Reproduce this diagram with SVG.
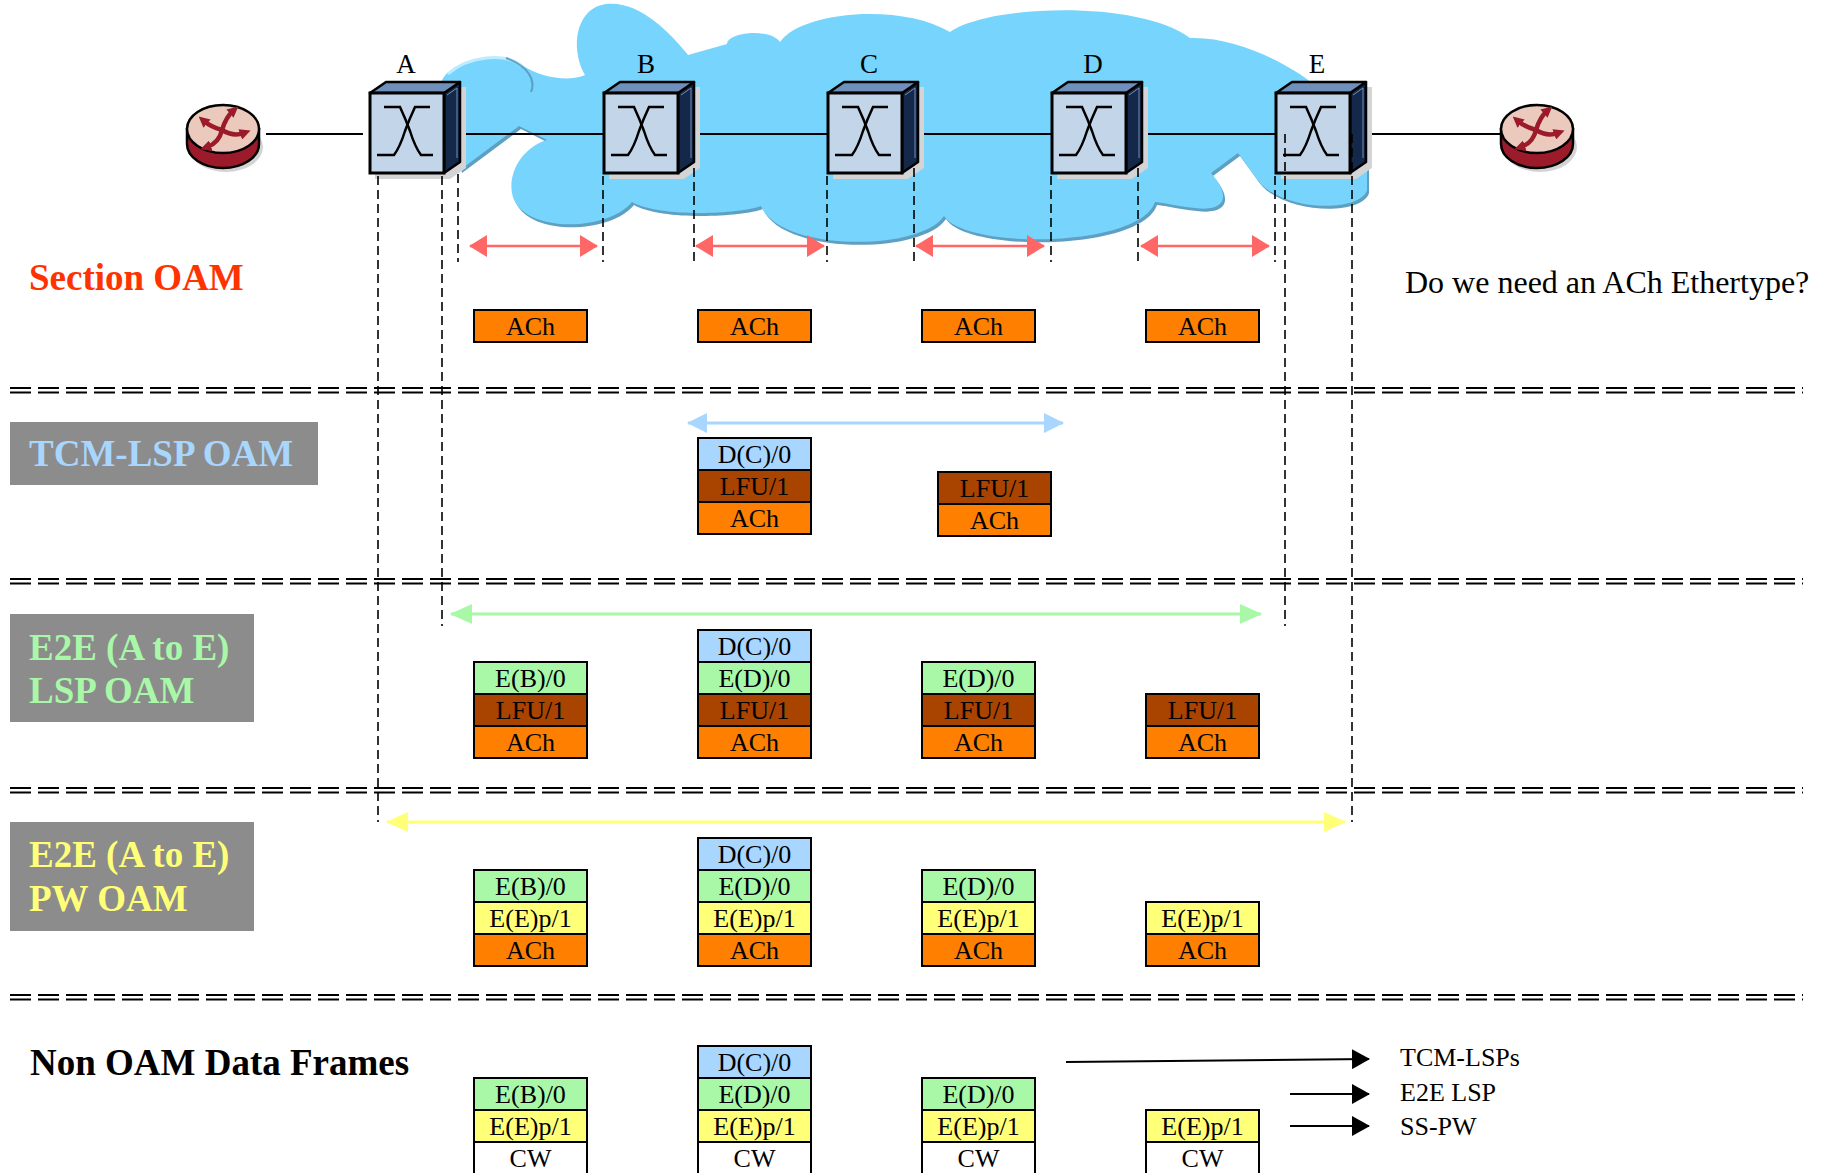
<svg xmlns="http://www.w3.org/2000/svg" xmlns:xlink="http://www.w3.org/1999/xlink" width="1824" height="1173" viewBox="0 0 1824 1173">
  <style>
    .cell { stroke: #000; stroke-width: 2; }
    .ach { fill: #FF7F00; }
    .lfu { fill: #A84400; }
    .dc { fill: #A8D6FF; }
    .eg { fill: #A8F8A8; }
    .ey { fill: #FFFF78; }
    .cw { fill: #FFFFFF; }
    .ct { font-family: "Liberation Serif", "Times New Roman", serif; font-size: 26px; text-anchor: middle; fill: #000; }
    .nl { font-family: "Liberation Serif", "Times New Roman", serif; font-size: 27px; text-anchor: middle; fill: #000; }
    .head { font-family: "Liberation Serif", "Times New Roman", serif; font-size: 37px; font-weight: bold; }
    .plain { font-family: "Liberation Serif", "Times New Roman", serif; fill: #000; }
    .sep { stroke: #000; stroke-width: 2; stroke-dasharray: 21 7; fill: none; }
    .vd { stroke: #000; stroke-width: 1.6; stroke-dasharray: 9 5; fill: none; }
    .link { stroke: #000; stroke-width: 2; fill: none; }
    .graybox { fill: #8C8C8C; }
  </style>
  <defs>
    <marker id="mRed" markerUnits="userSpaceOnUse" markerWidth="18" markerHeight="22" viewBox="0 0 18 22" refX="17" refY="11" orient="auto-start-reverse">
      <path d="M0,0 L18,11 L0,22 z" fill="#FF6666"/>
    </marker>
    <marker id="mBlue" markerUnits="userSpaceOnUse" markerWidth="20" markerHeight="20" viewBox="0 0 20 20" refX="19" refY="10" orient="auto-start-reverse">
      <path d="M0,0 L20,10 L0,20 z" fill="#A8D6FF"/>
    </marker>
    <marker id="mGreen" markerUnits="userSpaceOnUse" markerWidth="22" markerHeight="20" viewBox="0 0 22 20" refX="21" refY="10" orient="auto-start-reverse">
      <path d="M0,0 L22,10 L0,20 z" fill="#A8F8A8"/>
    </marker>
    <marker id="mYellow" markerUnits="userSpaceOnUse" markerWidth="22" markerHeight="20" viewBox="0 0 22 20" refX="21" refY="10" orient="auto-start-reverse">
      <path d="M0,0 L22,10 L0,20 z" fill="#FFFF78"/>
    </marker>
    <marker id="mBlack" markerUnits="userSpaceOnUse" markerWidth="18" markerHeight="20" viewBox="0 0 18 20" refX="17" refY="10" orient="auto">
      <path d="M0,0 L18,10 L0,20 z" fill="#000"/>
    </marker>
    <marker id="mRouter" markerUnits="userSpaceOnUse" markerWidth="11" markerHeight="11" viewBox="0 0 11 11" refX="4" refY="5.5" orient="auto">
      <path d="M0,0 L11,5.5 L0,11 z" fill="#9B1B2A"/>
    </marker>

    <!-- switch icon, front face starting at x=0 -->
    <g id="switch">
      <path d="M5,98 L21,87 L96,87 L96,168 L80,179 L5,179 z" fill="#D4D4D4"/>
      <path d="M74,93 L90,82 L90,162 L74,173 z" fill="#14294A" stroke="#000" stroke-width="2.5" stroke-linejoin="round"/>
      <path d="M77,95 L87,88 L87,158" fill="none" stroke="#6F8FB8" stroke-width="1"/>
      <path d="M0,93 L16,82 L90,82 L74,93 z" fill="#6E90BA" stroke="#000" stroke-width="2.5" stroke-linejoin="round"/>
      <rect x="0" y="93" width="74" height="80" fill="#C3D5E8" stroke="#000" stroke-width="3"/>
      <path d="M14,107 H30 Q36,120 40,131 Q45,147 51,155 H63" fill="none" stroke="#000" stroke-width="2.5"/>
      <path d="M60,107 H45 Q39,120 35,131 Q30,147 24,155 H7" fill="none" stroke="#000" stroke-width="2.5"/>
    </g>

    <!-- router icon centred at 0,0 -->
    <g id="router">
      <ellipse cx="3" cy="18" rx="37" ry="25" fill="#D4D4D4"/>
      <path d="M-36,0 L-36,15 A36,24 0 0 0 36,15 L36,0 z" fill="#9B1B2A" stroke="#000" stroke-width="2.5"/>
      <ellipse cx="0" cy="0" rx="36" ry="24" fill="#EBCABD" stroke="#000" stroke-width="2.5"/>
      <g fill="none" stroke="#9B1B2A" stroke-width="4.5" stroke-linecap="round">
        <path d="M-1,1 Q-12,-2 -19,-8" marker-end="url(#mRouter)"/>
        <path d="M-1,1 Q3,-12 10,-18" marker-end="url(#mRouter)"/>
        <path d="M-1,1 Q10,8 21,4" marker-end="url(#mRouter)"/>
        <path d="M-1,1 Q-4,14 -16,18" marker-end="url(#mRouter)"/>
      </g>
    </g>
  </defs>

  <rect width="1824" height="1173" fill="#FFFFFF"/>

  <!-- network cloud -->
  <g id="cloud">
    <path transform="translate(2,3)" fill="#5E9FC2" d="M519,126 L460,170 L442,80 C452,60 500,48 522,65 C540,78 570,82 585,75 C570,50 575,8 606,4 C640,0 672,35 688,55 L727,44 C728,32 770,28 780,42 C800,12 900,2 950,32 C990,4 1140,0 1190,38 C1240,36 1300,70 1320,90 L1367,140 L1367,190 C1360,214 1275,212 1254,175 L1238,153 L1211,173 C1232,197 1225,212 1195,208 C1175,206 1160,202 1155,202 C1140,248 965,250 944,216 C920,252 780,252 761,206 C740,214 660,218 632,202 C610,230 530,234 514,200 C505,178 520,148 547,140 Z"/>
    <path fill="#76D4FD" d="M519,126 L460,170 L442,80 C452,60 500,48 522,65 C540,78 570,82 585,75 C570,50 575,8 606,4 C640,0 672,35 688,55 L727,44 C728,32 770,28 780,42 C800,12 900,2 950,32 C990,4 1140,0 1190,38 C1240,36 1300,70 1320,90 L1367,140 L1367,190 C1360,214 1275,212 1254,175 L1238,153 L1211,173 C1232,197 1225,212 1195,208 C1175,206 1160,202 1155,202 C1140,248 965,250 944,216 C920,252 780,252 761,206 C740,214 660,218 632,202 C610,230 530,234 514,200 C505,178 520,148 547,140 Z"/>
    <path d="M448,74 C468,56 505,52 522,66" fill="none" stroke="#BDEBFF" stroke-width="3"/>
    <path d="M506,58 C528,66 536,80 531,92" fill="none" stroke="#5E9FC2" stroke-width="2"/>
  </g>

  <!-- links between devices -->
  <g id="links">
    <line class="link" x1="266" y1="134" x2="363" y2="134"/>
    <line class="link" x1="460" y1="134" x2="604" y2="134"/>
    <line class="link" x1="682" y1="134" x2="828" y2="134"/>
    <line class="link" x1="906" y1="134" x2="1052" y2="134"/>
    <line class="link" x1="1130" y1="134" x2="1276" y2="134"/>
    <line class="link" x1="1354" y1="134" x2="1500" y2="134"/>
  </g>

  <g id="router-left" transform="translate(223,129)"><use xlink:href="#router"/></g>
  <g id="router-right" transform="translate(1537,129)"><use xlink:href="#router"/></g>

  <g id="node-A" transform="translate(370,0)"><use xlink:href="#switch"/><text class="nl" x="36" y="73">A</text></g>
  <g id="node-B" transform="translate(604,0)"><use xlink:href="#switch"/><text class="nl" x="42" y="73">B</text></g>
  <g id="node-C" transform="translate(828,0)"><use xlink:href="#switch"/><text class="nl" x="41" y="73">C</text></g>
  <g id="node-D" transform="translate(1052,0)"><use xlink:href="#switch"/><text class="nl" x="41" y="73">D</text></g>
  <g id="node-E" transform="translate(1276,0)"><use xlink:href="#switch"/><text class="nl" x="41" y="73">E</text></g>

  <!-- section separators -->
  <g id="separators">
    <path class="sep" d="M10,388 H1803 M10,392.5 H1803"/>
    <path class="sep" d="M10,579 H1803 M10,583.5 H1803"/>
    <path class="sep" d="M10,788 H1803 M10,792.5 H1803"/>
    <path class="sep" d="M10,995 H1803 M10,999.5 H1803"/>
  </g>

  <!-- section titles -->
  <g id="titles">
    <text class="head" x="29" y="290" fill="#FF3300">Section OAM</text>
    <rect class="graybox" x="10" y="422" width="308" height="63"/>
    <text class="head" x="29" y="466" fill="#A8D6FF">TCM-LSP OAM</text>
    <rect class="graybox" x="10" y="614" width="244" height="108"/>
    <text class="head" x="29" y="660" fill="#A8F8A8">E2E (A to E)</text>
    <text class="head" x="29" y="703" fill="#A8F8A8">LSP OAM</text>
    <rect class="graybox" x="10" y="822" width="244" height="109"/>
    <text class="head" x="29" y="867" fill="#FFFF78">E2E (A to E)</text>
    <text class="head" x="29" y="911" fill="#FFFF78">PW OAM</text>
    <text class="head" x="30" y="1075" fill="#000">Non OAM Data Frames</text>
    <text class="plain" x="1405" y="293" font-size="32">Do we need an ACh Ethertype?</text>
  </g>

  <!-- connectors: drop lines and OAM scopes -->
  <g id="connectors">
    <line class="vd" x1="378" y1="176" x2="378" y2="822"/>
    <line class="vd" x1="442" y1="176" x2="442" y2="626"/>
    <line class="vd" x1="458" y1="174" x2="458" y2="262"/>
    <line class="vd" x1="603" y1="176" x2="603" y2="262"/>
    <line class="vd" x1="694" y1="168" x2="694" y2="262"/>
    <line class="vd" x1="827" y1="176" x2="827" y2="262"/>
    <line class="vd" x1="914" y1="168" x2="914" y2="262"/>
    <line class="vd" x1="1051" y1="176" x2="1051" y2="262"/>
    <line class="vd" x1="1138" y1="168" x2="1138" y2="262"/>
    <line class="vd" x1="1275" y1="176" x2="1275" y2="262"/>
    <line class="vd" x1="1285" y1="134" x2="1285" y2="626"/>
    <line class="vd" x1="1352" y1="134" x2="1352" y2="822"/>

    <g fill="none" stroke="#FF6666" stroke-width="2.5">
      <line x1="470" y1="246" x2="597" y2="246" marker-start="url(#mRed)" marker-end="url(#mRed)"/>
      <line x1="696" y1="246" x2="824" y2="246" marker-start="url(#mRed)" marker-end="url(#mRed)"/>
      <line x1="916" y1="246" x2="1044" y2="246" marker-start="url(#mRed)" marker-end="url(#mRed)"/>
      <line x1="1141" y1="246" x2="1269" y2="246" marker-start="url(#mRed)" marker-end="url(#mRed)"/>
    </g>
    <line x1="688" y1="423" x2="1063" y2="423" stroke="#A8D6FF" stroke-width="3" marker-start="url(#mBlue)" marker-end="url(#mBlue)"/>
    <line x1="451" y1="614" x2="1261" y2="614" stroke="#A8F8A8" stroke-width="3" marker-start="url(#mGreen)" marker-end="url(#mGreen)"/>
    <line x1="387" y1="822" x2="1345" y2="822" stroke="#FFFF78" stroke-width="3" marker-start="url(#mYellow)" marker-end="url(#mYellow)"/>

    <g stroke="#000" stroke-width="2">
      <line x1="1066" y1="1062" x2="1369" y2="1059" marker-end="url(#mBlack)"/>
      <line x1="1290" y1="1094" x2="1369" y2="1094" marker-end="url(#mBlack)"/>
      <line x1="1290" y1="1126" x2="1369" y2="1126" marker-end="url(#mBlack)"/>
    </g>
  </g>

  <g id="legend">
    <text class="plain" x="1400" y="1066" font-size="26">TCM-LSPs</text>
    <text class="plain" x="1400" y="1101" font-size="26">E2E LSP</text>
    <text class="plain" x="1400" y="1135" font-size="26">SS-PW</text>
  </g>

  <!-- Section OAM frames -->
  <g id="sec-1"><rect class="cell ach" x="474" y="310" width="113" height="32"/><text class="ct" x="530.5" y="335">ACh</text></g>
  <g id="sec-2"><rect class="cell ach" x="698" y="310" width="113" height="32"/><text class="ct" x="754.5" y="335">ACh</text></g>
  <g id="sec-3"><rect class="cell ach" x="922" y="310" width="113" height="32"/><text class="ct" x="978.5" y="335">ACh</text></g>
  <g id="sec-4"><rect class="cell ach" x="1146" y="310" width="113" height="32"/><text class="ct" x="1202.5" y="335">ACh</text></g>

  <!-- TCM-LSP OAM frames -->
  <g id="tcm-2">
    <rect class="cell dc" x="698" y="438" width="113" height="32"/><text class="ct" x="754.5" y="463">D(C)/0</text>
    <rect class="cell lfu" x="698" y="470" width="113" height="32"/><text class="ct" x="754.5" y="495">LFU/1</text>
    <rect class="cell ach" x="698" y="502" width="113" height="32"/><text class="ct" x="754.5" y="527">ACh</text>
  </g>
  <g id="tcm-3">
    <rect class="cell lfu" x="938" y="472" width="113" height="32"/><text class="ct" x="994.5" y="497">LFU/1</text>
    <rect class="cell ach" x="938" y="504" width="113" height="32"/><text class="ct" x="994.5" y="529">ACh</text>
  </g>

  <!-- E2E LSP OAM frames -->
  <g id="lsp-1">
    <rect class="cell eg" x="474" y="662" width="113" height="32"/><text class="ct" x="530.5" y="687">E(B)/0</text>
    <rect class="cell lfu" x="474" y="694" width="113" height="32"/><text class="ct" x="530.5" y="719">LFU/1</text>
    <rect class="cell ach" x="474" y="726" width="113" height="32"/><text class="ct" x="530.5" y="751">ACh</text>
  </g>
  <g id="lsp-2">
    <rect class="cell dc" x="698" y="630" width="113" height="32"/><text class="ct" x="754.5" y="655">D(C)/0</text>
    <rect class="cell eg" x="698" y="662" width="113" height="32"/><text class="ct" x="754.5" y="687">E(D)/0</text>
    <rect class="cell lfu" x="698" y="694" width="113" height="32"/><text class="ct" x="754.5" y="719">LFU/1</text>
    <rect class="cell ach" x="698" y="726" width="113" height="32"/><text class="ct" x="754.5" y="751">ACh</text>
  </g>
  <g id="lsp-3">
    <rect class="cell eg" x="922" y="662" width="113" height="32"/><text class="ct" x="978.5" y="687">E(D)/0</text>
    <rect class="cell lfu" x="922" y="694" width="113" height="32"/><text class="ct" x="978.5" y="719">LFU/1</text>
    <rect class="cell ach" x="922" y="726" width="113" height="32"/><text class="ct" x="978.5" y="751">ACh</text>
  </g>
  <g id="lsp-4">
    <rect class="cell lfu" x="1146" y="694" width="113" height="32"/><text class="ct" x="1202.5" y="719">LFU/1</text>
    <rect class="cell ach" x="1146" y="726" width="113" height="32"/><text class="ct" x="1202.5" y="751">ACh</text>
  </g>

  <!-- E2E PW OAM frames -->
  <g id="pw-1">
    <rect class="cell eg" x="474" y="870" width="113" height="32"/><text class="ct" x="530.5" y="895">E(B)/0</text>
    <rect class="cell ey" x="474" y="902" width="113" height="32"/><text class="ct" x="530.5" y="927">E(E)p/1</text>
    <rect class="cell ach" x="474" y="934" width="113" height="32"/><text class="ct" x="530.5" y="959">ACh</text>
  </g>
  <g id="pw-2">
    <rect class="cell dc" x="698" y="838" width="113" height="32"/><text class="ct" x="754.5" y="863">D(C)/0</text>
    <rect class="cell eg" x="698" y="870" width="113" height="32"/><text class="ct" x="754.5" y="895">E(D)/0</text>
    <rect class="cell ey" x="698" y="902" width="113" height="32"/><text class="ct" x="754.5" y="927">E(E)p/1</text>
    <rect class="cell ach" x="698" y="934" width="113" height="32"/><text class="ct" x="754.5" y="959">ACh</text>
  </g>
  <g id="pw-3">
    <rect class="cell eg" x="922" y="870" width="113" height="32"/><text class="ct" x="978.5" y="895">E(D)/0</text>
    <rect class="cell ey" x="922" y="902" width="113" height="32"/><text class="ct" x="978.5" y="927">E(E)p/1</text>
    <rect class="cell ach" x="922" y="934" width="113" height="32"/><text class="ct" x="978.5" y="959">ACh</text>
  </g>
  <g id="pw-4">
    <rect class="cell ey" x="1146" y="902" width="113" height="32"/><text class="ct" x="1202.5" y="927">E(E)p/1</text>
    <rect class="cell ach" x="1146" y="934" width="113" height="32"/><text class="ct" x="1202.5" y="959">ACh</text>
  </g>

  <!-- non OAM data frames -->
  <g id="data-1">
    <rect class="cell eg" x="474" y="1078" width="113" height="32"/><text class="ct" x="530.5" y="1103">E(B)/0</text>
    <rect class="cell ey" x="474" y="1110" width="113" height="32"/><text class="ct" x="530.5" y="1135">E(E)p/1</text>
    <rect class="cell cw" x="474" y="1142" width="113" height="36"/><text class="ct" x="530.5" y="1167">CW</text>
  </g>
  <g id="data-2">
    <rect class="cell dc" x="698" y="1046" width="113" height="32"/><text class="ct" x="754.5" y="1071">D(C)/0</text>
    <rect class="cell eg" x="698" y="1078" width="113" height="32"/><text class="ct" x="754.5" y="1103">E(D)/0</text>
    <rect class="cell ey" x="698" y="1110" width="113" height="32"/><text class="ct" x="754.5" y="1135">E(E)p/1</text>
    <rect class="cell cw" x="698" y="1142" width="113" height="36"/><text class="ct" x="754.5" y="1167">CW</text>
  </g>
  <g id="data-3">
    <rect class="cell eg" x="922" y="1078" width="113" height="32"/><text class="ct" x="978.5" y="1103">E(D)/0</text>
    <rect class="cell ey" x="922" y="1110" width="113" height="32"/><text class="ct" x="978.5" y="1135">E(E)p/1</text>
    <rect class="cell cw" x="922" y="1142" width="113" height="36"/><text class="ct" x="978.5" y="1167">CW</text>
  </g>
  <g id="data-4">
    <rect class="cell ey" x="1146" y="1110" width="113" height="32"/><text class="ct" x="1202.5" y="1135">E(E)p/1</text>
    <rect class="cell cw" x="1146" y="1142" width="113" height="36"/><text class="ct" x="1202.5" y="1167">CW</text>
  </g>
</svg>
